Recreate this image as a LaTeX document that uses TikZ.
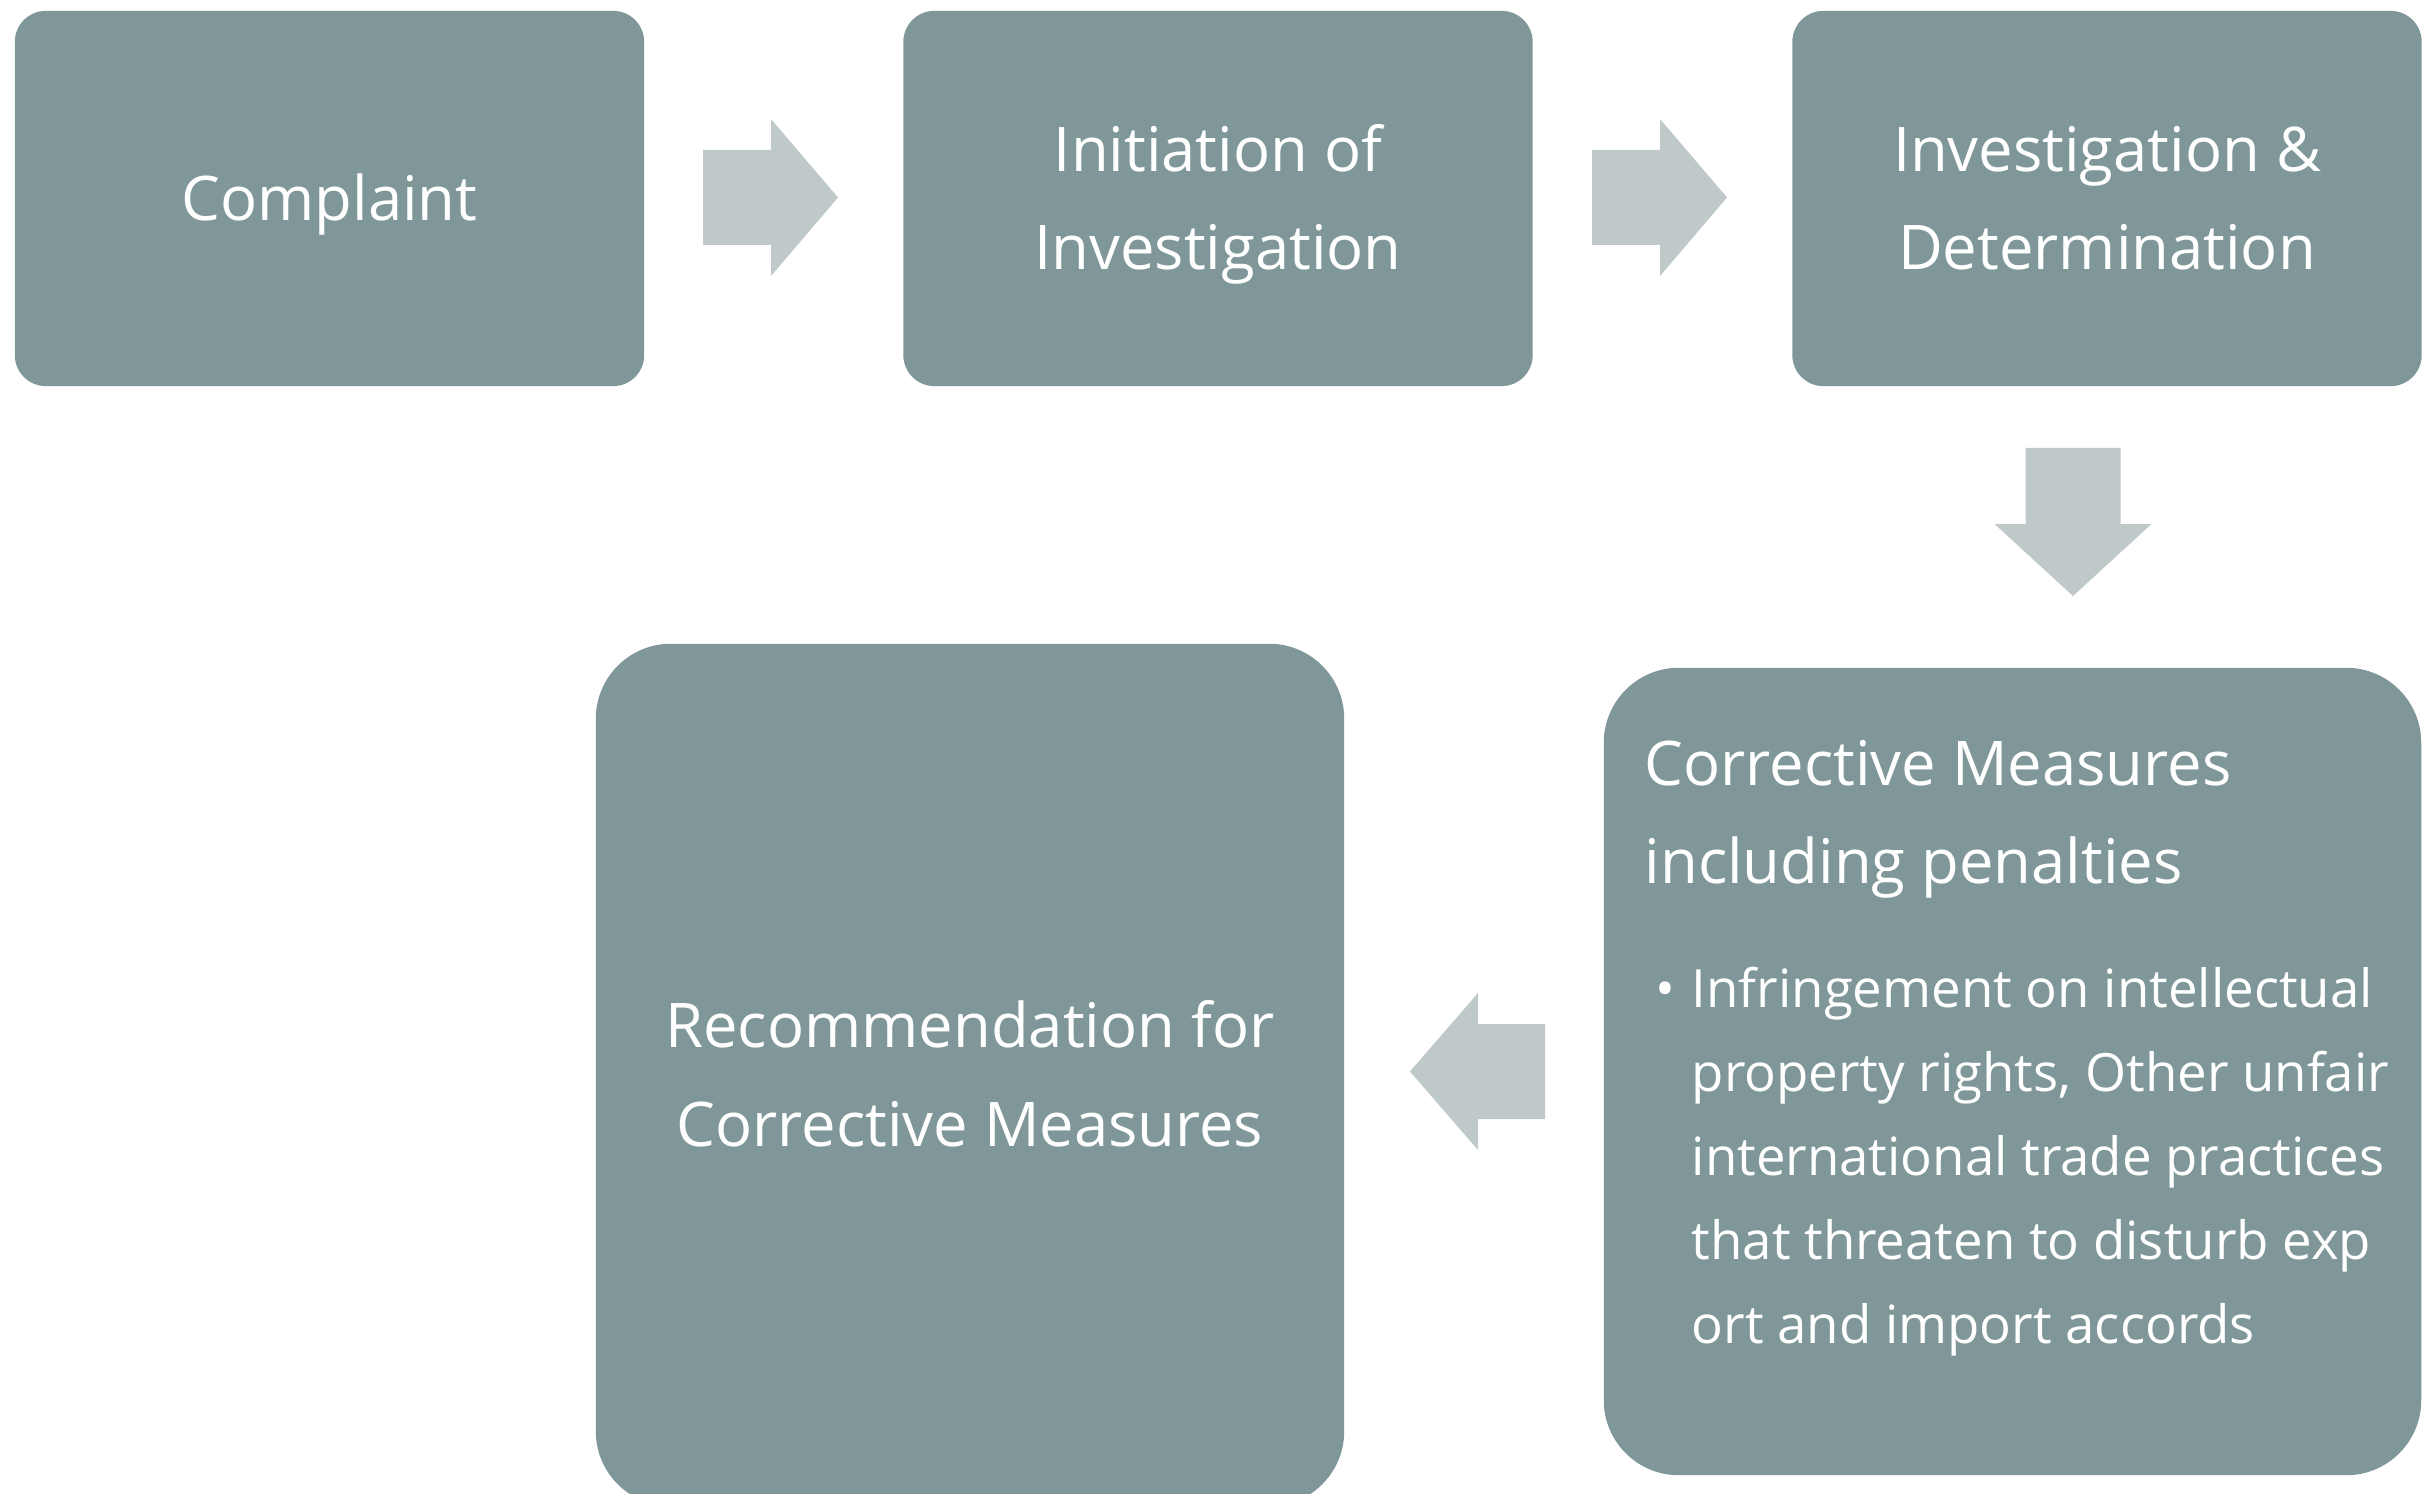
\documentclass[tikz,border=0pt]{standalone}
\usepackage{fontspec}
\setmainfont{Open Sans}
\usetikzlibrary{calc}
\definecolor{boxfill}{RGB}{128,151,153}
\definecolor{arrowfill}{RGB}{192,201,201}

% uniform line strut, so every box centres its lines the same way
\newcommand{\ls}{\rule[-7.8pt]{0pt}{28pt}}

% Block arrow: #1 centre, #2 rotation, #3 total length, #4 head length
\newcommand{\BlockArrow}[4]{%
  \fill[arrowfill, shift={#1}, rotate=#2]
    (-#3/2,-47.5) -- (#3/2-#4,-47.5) -- (#3/2-#4,-78.5) -- (#3/2,0)
    -- (#3/2-#4,78.5) -- (#3/2-#4,47.5) -- (-#3/2,47.5) -- cycle;}

\begin{document}
\begin{tikzpicture}[x=0.01cm, y=-0.01cm,
  stepbox/.style={fill=boxfill, draw=none, text=white, inner sep=0pt,
    align=center, font=\fontsize{17.5}{28}\selectfont},
  smallbox/.style={stepbox, rounded corners=0.31cm,
    minimum width=6.29cm, minimum height=3.75cm},
  bigbox/.style={stepbox, rounded corners=0.75cm},
  titletext/.style={text=white, inner sep=0pt, anchor=base west,
    font=\fontsize{17.5}{28}\selectfont},
  bullettext/.style={text=white, inner sep=0pt, anchor=base west,
    font=\fontsize{15}{24}\selectfont}]

\clip (0,0) rectangle (2432,1494);
\fill[white] (0,0) rectangle (2432,1494);

% top row
\node[smallbox] (b1) at (329.5,198.5) {\ls Complaint};
\node[smallbox] (b2) at (1218,198.5) {\ls Initiation of\\\ls Investigation};
\node[smallbox] (b3) at (2107,198.5) {\ls Investigation \&\\\ls Determination};

% bottom row
\node[bigbox, minimum width=8.17cm, minimum height=8.07cm] (corr) at (2012.5,1071.5) {};
\node[bigbox, minimum width=7.48cm, minimum height=8.62cm] (rec) at (970,1075)
  {\ls Recommendation for\\\ls Corrective Measures};

% text of the corrective measures box
\node[titletext] (c1) at ($(corr.north west)+(41,118)$) {Corrective Measures};
\node[titletext] (c2) at ($(c1.base west)+(0,98)$) {including penalties};
\node[bullettext] (dot) at ($(corr.north west)+(52,340)$) {•};
\node[bullettext] (l1) at ($(corr.north west)+(88,340)$) {Infringement on intellectual};
\node[bullettext] (l2) at ($(l1.base west)+(0,84)$) {property rights, Other unfair};
\node[bullettext] (l3) at ($(l2.base west)+(0,84)$) {international trade practices};
\node[bullettext] (l4) at ($(l3.base west)+(0,84)$) {that threaten to disturb exp};
\node[bullettext] (l5) at ($(l4.base west)+(0,84)$) {ort and import accords};

% flow arrows
\coordinate (a1) at (770.5,197.5);
\coordinate (a2) at (1659.5,197.5);
\coordinate (a3) at (2073,522);
\coordinate (a4) at (1477.5,1071.5);
\BlockArrow{(a1)}{0}{135}{67}
\BlockArrow{(a2)}{0}{135}{67}
\BlockArrow{(a3)}{-90}{148}{72}
\BlockArrow{(a4)}{180}{135}{68}
\end{tikzpicture}
\end{document}
